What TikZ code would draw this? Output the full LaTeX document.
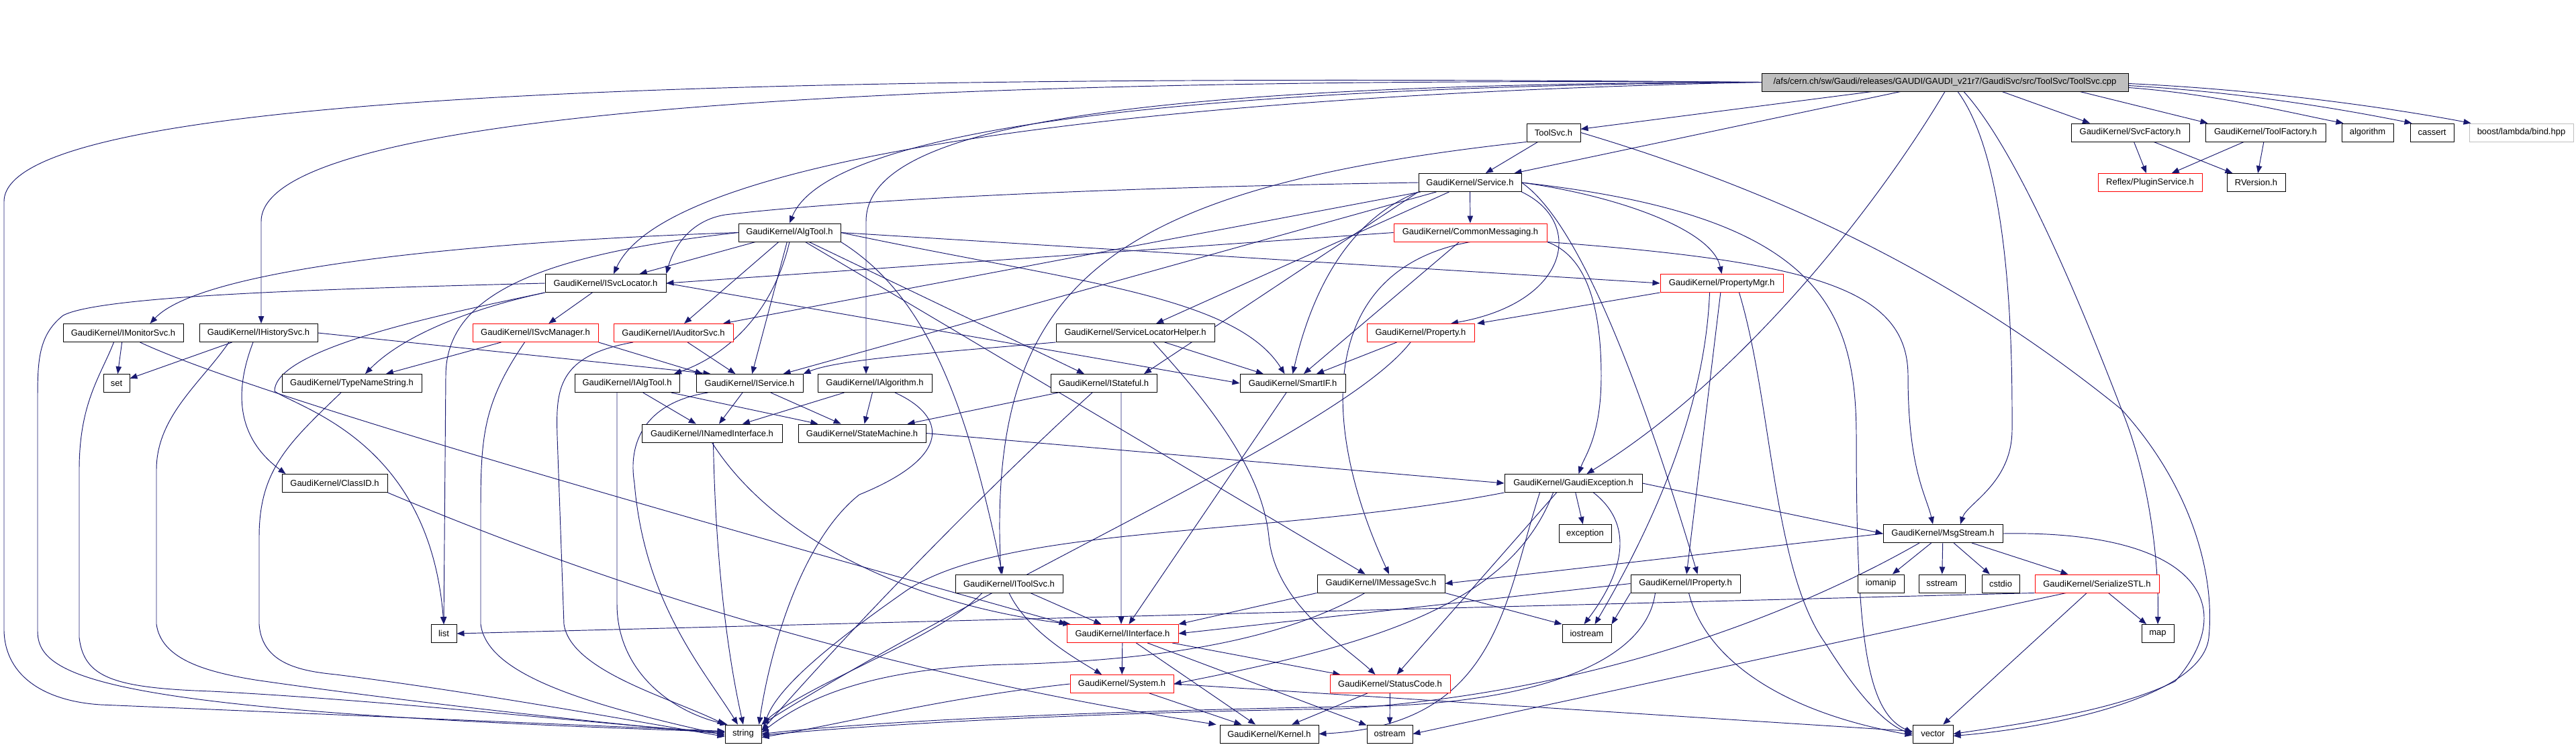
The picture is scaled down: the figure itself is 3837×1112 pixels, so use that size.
\documentclass[tikz,border=0pt]{standalone}
\usepackage{fontspec}
\setmainfont{Liberation Sans}
\usetikzlibrary{arrows.meta}
\definecolor{edgec}{HTML}{191970}
\definecolor{hdrfill}{HTML}{BFBFBF}
\definecolor{nodoc}{HTML}{BFBFBF}
\pgfdeclarelayer{bg}
\pgfsetlayers{bg,main}
\tikzset{
  box/.style={draw=black, line width=0.95bp, fill=white, minimum height=27bp, inner sep=0pt,
    font=\fontsize{13bp}{15bp}\selectfont},
  redbox/.style={draw=red},
  ed/.style={draw=edgec, line width=0.95bp, -{Triangle[length=11bp,width=8.5bp]}}
}
\begin{document}
\begin{tikzpicture}[x=1bp,y=-1bp]
\useasboundingbox (0,0) rectangle (3837,1112);
% ---------------- nodes ----------------
\node[box,minimum width=546bp,fill=hdrfill] (H) at (2897,122.5) {/afs/cern.ch/sw/Gaudi/releases/GAUDI/GAUDI\_v21r7/GaudiSvc/src/ToolSvc/ToolSvc.cpp};
\node[box,minimum width=80bp] (ToolSvcH) at (2314,197.5) {ToolSvc.h};
\node[box,minimum width=176bp] (SvcFactory) at (3173,197.5) {GaudiKernel/SvcFactory.h};
\node[box,minimum width=179bp] (ToolFactory) at (3374.5,197.5) {GaudiKernel/ToolFactory.h};
\node[box,minimum width=77bp] (algorithm) at (3526.5,197.5) {algorithm};
\node[box,minimum width=65bp] (cassert) at (3622.5,197.5) {cassert};
\node[box,minimum width=155bp,draw=nodoc] (boost) at (3755.5,197.5) {boost/lambda/bind.hpp};
\node[box,minimum width=153bp] (Service) at (2189.5,272) {GaudiKernel/Service.h};
\node[box,redbox,minimum width=155bp] (PluginService) at (3202.5,272) {Reflex/PluginService.h};
\node[box,minimum width=87bp] (RVersion) at (3360.5,272) {RVersion.h};
\node[box,minimum width=152bp] (AlgTool) at (1176,346.5) {GaudiKernel/AlgTool.h};
\node[box,redbox,minimum width=228bp] (CommonMessaging) at (2190,346.5) {GaudiKernel/CommonMessaging.h};
\node[box,minimum width=180bp] (ISvcLocator) at (902,422) {GaudiKernel/ISvcLocator.h};
\node[box,redbox,minimum width=183bp] (PropertyMgr) at (2564.5,422) {GaudiKernel/PropertyMgr.h};
\node[box,minimum width=179bp] (IMonitorSvc) at (183.5,496) {GaudiKernel/IMonitorSvc.h};
\node[box,minimum width=176bp] (IHistorySvc) at (385,496) {GaudiKernel/IHistorySvc.h};
\node[box,redbox,minimum width=187bp] (ISvcManager) at (797.5,496) {GaudiKernel/ISvcManager.h};
\node[box,redbox,minimum width=178bp] (IAuditorSvc) at (1003,496) {GaudiKernel/IAuditorSvc.h};
\node[box,minimum width=236bp] (SLHelper) at (1691,496) {GaudiKernel/ServiceLocatorHelper.h};
\node[box,redbox,minimum width=160bp] (Property) at (2116,496) {GaudiKernel/Property.h};
\node[box,minimum width=39bp] (set) at (173.5,571) {set};
\node[box,minimum width=208bp] (TypeNameString) at (524,571) {GaudiKernel/TypeNameString.h};
\node[box,minimum width=156bp] (IAlgTool) at (934,571) {GaudiKernel/IAlgTool.h};
\node[box,minimum width=159bp] (IService) at (1116.5,571) {GaudiKernel/IService.h};
\node[box,minimum width=170bp] (IAlgorithm) at (1303,571) {GaudiKernel/IAlgorithm.h};
\node[box,minimum width=158bp] (IStateful) at (1644,571) {GaudiKernel/IStateful.h};
\node[box,minimum width=157bp] (SmartIF) at (1925.5,571) {GaudiKernel/SmartIF.h};
\node[box,minimum width=209bp] (INamedInterface) at (1060.5,645.5) {GaudiKernel/INamedInterface.h};
\node[box,minimum width=190bp] (StateMachine) at (1284,645.5) {GaudiKernel/StateMachine.h};
\node[box,minimum width=157bp] (ClassID) at (498.5,720) {GaudiKernel/ClassID.h};
\node[box,minimum width=205bp] (GaudiException) at (2343.5,720) {GaudiKernel/GaudiException.h};
\node[box,minimum width=78bp] (exception) at (2361,795) {exception};
\node[box,minimum width=178bp] (MsgStream) at (2894,795) {GaudiKernel/MsgStream.h};
\node[box,minimum width=160bp] (IToolSvc) at (1503,869.5) {GaudiKernel/IToolSvc.h};
\node[box,minimum width=190bp] (IMessageSvc) at (2057,869.5) {GaudiKernel/IMessageSvc.h};
\node[box,minimum width=163bp] (IProperty) at (2510.5,869.5) {GaudiKernel/IProperty.h};
\node[box,minimum width=69bp] (iomanip) at (2801.5,869.5) {iomanip};
\node[box,minimum width=69bp] (sstream) at (2892.5,869.5) {sstream};
\node[box,minimum width=56bp] (cstdio) at (2980,869.5) {cstdio};
\node[box,redbox,minimum width=185bp] (SerializeSTL) at (3123.5,869.5) {GaudiKernel/SerializeSTL.h};
\node[box,minimum width=38bp] (list) at (661,944) {list};
\node[box,redbox,minimum width=166bp] (IInterface) at (1672,944) {GaudiKernel/IInterface.h};
\node[box,minimum width=73bp] (iostream) at (2363.5,944) {iostream};
\node[box,minimum width=48bp] (map) at (3214,944) {map};
\node[box,redbox,minimum width=154bp] (System) at (1671,1019) {GaudiKernel/System.h};
\node[box,redbox,minimum width=179bp] (StatusCode) at (2070.5,1019) {GaudiKernel/StatusCode.h};
\node[box,minimum width=54bp] (string) at (1107,1093.5) {string};
\node[box,minimum width=147bp] (Kernel) at (1890.5,1093.5) {GaudiKernel/Kernel.h};
\node[box,minimum width=68bp] (ostream) at (2070,1093.5) {ostream};
\node[box,minimum width=60bp] (vector) at (2879,1093.5) {vector};
% ---------------- edges ----------------
\begin{pgfonlayer}{bg}
% header
\draw[ed] (H) -- (ToolSvcH);
\draw[ed] (H) -- (Service);
\draw[ed] (H.south) .. controls (2800,300) and (2600,560) .. ([xshift=20bp]GaudiException.north);
\draw[ed] ([xshift=19bp]H.south) .. controls (3000,250) and (2997,560) .. (2997,640) .. controls (2997,720) and (2930,750) .. ([xshift=26bp]MsgStream.north);
\draw[ed] ([xshift=28bp]H.south) .. controls (3010,230) and (3110,480) .. (3160,610) .. controls (3205,720) and (3216,850) .. (map.north);
\draw[ed] ([xshift=85bp]H.south) -- ([xshift=-60bp]SvcFactory.north);
\draw[ed] ([xshift=201bp]H.south) -- ([xshift=4bp]ToolFactory.north west);
\draw[ed] ([yshift=-8bp]H.east) .. controls (3300,140) and (3420,170) .. ([xshift=3bp]algorithm.north west);
\draw[ed] ([yshift=-5bp]H.east) .. controls (3350,138) and (3500,165) .. ([xshift=3bp]cassert.north west);
\draw[ed] ([yshift=-2bp]H.east) .. controls (3400,135) and (3600,168) .. ([xshift=3bp]boost.north west);
\draw[ed] (H.west) .. controls (1800,140) and (1000,220) .. ([xshift=12bp]ISvcLocator.north);
\draw[ed] (H.west) .. controls (1700,130) and (1230,200) .. (AlgTool.north);
\draw[ed] (H.west) .. controls (1600,125) and (1290,200) .. (1290,330) -- ([xshift=-13bp]IAlgorithm.north);
\draw[ed] (H.west) .. controls (1500,115) and (389,150) .. (389,330) -- ([xshift=4bp]IHistorySvc.north);
\draw[ed] (H.west) .. controls (1200,110) and (8,130) .. (6,300) -- (6,940) .. controls (8,1010) and (70,1045) .. (150,1050) -- ([yshift=4bp]string.west);
% ToolSvc.h
\draw[ed] (ToolSvcH) -- (Service);
\draw[ed] (ToolSvcH.south west) .. controls (1650,280) and (1470,420) .. ([xshift=-12bp]IToolSvc.north);
\draw[ed] (ToolSvcH.east) .. controls (2700,300) and (2950,440) .. (3160,610) .. controls (3260,720) and (3300,850) .. (3290,950) .. controls (3280,1040) and (3050,1085) .. ([yshift=-3bp]vector.east);
% factories
\draw[ed] (SvcFactory) -- (PluginService);
\draw[ed] (SvcFactory) -- (RVersion);
\draw[ed] (ToolFactory) -- (PluginService);
\draw[ed] (ToolFactory) -- (RVersion);
% Service.h
\draw[ed] (Service) -- (CommonMessaging);
\draw[ed] (Service.west) .. controls (1600,280) and (1250,300) .. (1080,320) .. controls (1020,330) and (1000,380) .. (ISvcLocator.north east);
\draw[ed] (Service) -- (IService);
\draw[ed] (Service) -- (SLHelper);
\draw[ed] (Service) -- (IAuditorSvc);
\draw[ed] (Service.south west) .. controls (2000,330) and (1950,450) .. (SmartIF.north);
\draw[ed] (Service.south west) -- ([xshift=60bp]IStateful.north);
\draw[ed] (Service.east) .. controls (2400,290) and (2550,340) .. (PropertyMgr.north);
\draw[ed] (Service.south east) .. controls (2360,330) and (2340,450) .. ([xshift=45bp]Property.north);
\draw[ed] (Service.east) .. controls (2350,330) and (2440,560) .. ([xshift=18bp]IProperty.north);
\draw[ed] (Service.east) .. controls (2700,320) and (2765,450) .. (2765,650) .. controls (2765,950) and (2780,1060) .. ([yshift=2bp]vector.west);
% CommonMessaging.h
\draw[ed] (CommonMessaging.west) -- (ISvcLocator.east);
\draw[ed] (CommonMessaging.south) .. controls (1970,400) and (1960,620) .. ([xshift=12bp]IMessageSvc.north);
\draw[ed] (CommonMessaging) -- (SmartIF);
\draw[ed] (CommonMessaging.south east) .. controls (2700,390) and (2842,430) .. (2842,560) .. controls (2842,700) and (2870,740) .. ([xshift=-15bp]MsgStream.north);
\draw[ed] (CommonMessaging.south east) .. controls (2360,380) and (2385,450) .. (2385,560) .. controls (2385,650) and (2360,680) .. ([xshift=8bp]GaudiException.north);
% AlgTool.h
\draw[ed] (AlgTool.west) .. controls (700,360) and (300,400) .. ([xshift=40bp]IMonitorSvc.north);
\draw[ed] (AlgTool) -- (ISvcLocator);
\draw[ed] (AlgTool.south) .. controls (1150,470) and (1080,530) .. ([xshift=70bp]IAlgTool.north);
\draw[ed] (AlgTool) -- (IService);
\draw[ed] (AlgTool) -- (IAuditorSvc);
\draw[ed] (AlgTool.south east) .. controls (1380,440) and (1440,600) .. ([xshift=-10bp]IToolSvc.north);
\draw[ed] (AlgTool) -- (IStateful);
\draw[ed] (AlgTool.east) .. controls (1600,420) and (1840,440) .. ([xshift=-12bp]SmartIF.north);
\draw[ed] (AlgTool.east) -- (PropertyMgr.west);
\draw[ed] (AlgTool) -- (IMessageSvc);
\draw[ed] (AlgTool.west) .. controls (800,380) and (664,440) .. (664,560) -- (list.north);
% ISvcLocator.h
\draw[ed] (ISvcLocator) -- (ISvcManager);
\draw[ed] (ISvcLocator.south west) .. controls (700,460) and (600,500) .. ([xshift=20bp]TypeNameString.north);
\draw[ed] (ISvcLocator.east) -- (SmartIF.west);
\draw[ed] (ISvcLocator.south west) .. controls (650,470) and (409,520) .. (409,583) .. controls (450,610) and (640,660) .. (list.north);
\draw[ed] (ISvcLocator.west) .. controls (500,430) and (150,440) .. (94,470) .. controls (56,500) and (56,540) .. (56,600) -- (56,940) .. controls (56,1010) and (150,1060) .. ([yshift=3bp]string.west);
% IMonitorSvc.h
\draw[ed] (IMonitorSvc) -- (set);
\draw[ed] ([xshift=-14bp]IMonitorSvc.south) .. controls (150,560) and (118,600) .. (118,700) -- (118,950) .. controls (125,1010) and (170,1025) .. (315,1030) .. controls (600,1045) and (900,1080) .. ([yshift=2bp]string.west);
\draw[ed] ([xshift=25bp]IMonitorSvc.south) .. controls (400,600) and (1200,820) .. (IInterface.north west);
% IHistorySvc.h
\draw[ed] (IHistorySvc) -- (set);
\draw[ed] ([xshift=-44bp]IHistorySvc.south) .. controls (300,570) and (233,620) .. (233,700) -- (233,930) .. controls (240,980) and (300,1000) .. (380,1013) .. controls (600,1045) and (900,1078) .. (string.west);
\draw[ed] ([xshift=-8bp]IHistorySvc.south) .. controls (350,580) and (350,650) .. ([xshift=-73bp]ClassID.north);
\draw[ed] (IHistorySvc.east) -- ([xshift=-58bp]IService.north);
% ISvcManager.h
\draw[ed] (ISvcManager) -- (TypeNameString);
\draw[ed] ([xshift=-16bp]ISvcManager.south) .. controls (720,600) and (716,650) .. (716,760) -- (716,930) .. controls (725,1000) and (850,1045) .. ([yshift=-2bp]string.west);
\draw[ed] (ISvcManager.south east) -- ([xshift=-70bp]IService.north);
% IAuditorSvc.h
\draw[ed] (IAuditorSvc) -- (IService);
\draw[ed] ([xshift=-60bp]IAuditorSvc.south) .. controls (830,530) and (828,580) .. (830,650) -- (840,930) .. controls (850,1000) and (1000,1040) .. (string.north west);
% ServiceLocatorHelper.h
\draw[ed] (SLHelper.south west) .. controls (1400,525) and (1250,535) .. (IService.north east);
\draw[ed] (SLHelper) -- (SmartIF);
\draw[ed] ([xshift=27bp]SLHelper.south) .. controls (1800,600) and (1880,700) .. (1890,800) .. controls (1900,900) and (2000,960) .. ([xshift=-22bp]StatusCode.north);
% Property.h
\draw[ed] (Property) -- (SmartIF);
\draw[ed] ([xshift=-15bp]Property.south) .. controls (2000,640) and (1500,850) .. (string.north east);
% PropertyMgr.h
\draw[ed] (PropertyMgr.south west) -- ([xshift=84bp]Property.north);
\draw[ed] (PropertyMgr) -- (IProperty);
\draw[ed] ([xshift=26bp]PropertyMgr.south) .. controls (2640,600) and (2640,850) .. (2720,960) .. controls (2770,1040) and (2810,1080) .. (vector.west);
\draw[ed] ([xshift=-18bp]PropertyMgr.south) .. controls (2540,600) and (2470,770) .. ([xshift=12bp]iostream.north);
% TypeNameString.h
\draw[ed] ([xshift=-16bp]TypeNameString.south) .. controls (430,660) and (386,700) .. (386,800) -- (386,930) .. controls (390,990) and (450,1000) .. (500,1005) .. controls (700,1030) and (950,1075) .. ([yshift=-4bp]string.west);
% IAlgTool.h
\draw[ed] (IAlgTool) -- (INamedInterface);
\draw[ed] (IAlgTool) -- (StateMachine);
\draw[ed] ([xshift=-15bp]IAlgTool.south) .. controls (919,700) and (919,800) .. (919,900) .. controls (919,1000) and (1000,1060) .. ([xshift=4bp]string.north west);
% IService.h
\draw[ed] (IService) -- (INamedInterface);
\draw[ed] (IService) -- (StateMachine);
\draw[ed] ([xshift=-62bp]IService.south) .. controls (960,600) and (935,660) .. (945,720) .. controls (960,900) and (1050,1000) .. ([xshift=-8bp]string.north);
% IAlgorithm.h
\draw[ed] (IAlgorithm) -- (INamedInterface);
\draw[ed] (IAlgorithm) -- (StateMachine);
\draw[ed] ([xshift=30bp]IAlgorithm.south) .. controls (1410,620) and (1420,680) .. (1280,737) .. controls (1200,800) and (1150,950) .. ([xshift=-4bp]string.north east);
% IStateful.h
\draw[ed] (IStateful) -- (StateMachine);
\draw[ed] ([xshift=26bp]IStateful.south) -- ([xshift=-2bp]IInterface.north);
\draw[ed] ([xshift=-17bp]IStateful.south) .. controls (1500,700) and (1300,900) .. ([yshift=5bp]string.east);
% SmartIF.h
\draw[ed] (SmartIF) -- (IInterface);
% INamedInterface.h
\draw[ed] (INamedInterface.south) .. controls (1150,800) and (1350,900) .. ([xshift=6bp]IInterface.north west);
\draw[ed] ([xshift=2bp]INamedInterface.south) .. controls (1065,800) and (1078,950) .. (string.north);
% StateMachine.h
\draw[ed] (StateMachine.east) -- (GaudiException.west);
% ClassID.h
\draw[ed] (ClassID.south east) .. controls (900,870) and (1300,1000) .. ([xshift=-5bp]Kernel.north west);
% GaudiException.h
\draw[ed] (GaudiException) -- (exception);
\draw[ed] (GaudiException.east) -- (MsgStream.west);
\draw[ed] ([xshift=30bp]GaudiException.south) .. controls (2445,790) and (2405,870) .. ([xshift=-4bp]iostream.north);
\draw[ed] (GaudiException.south west) .. controls (1900,800) and (1500,780) .. (1350,880) .. controls (1250,950) and (1160,1020) .. ([xshift=4bp]string.north east);
\draw[ed] ([xshift=-30bp]GaudiException.south) .. controls (2250,900) and (2050,960) .. (System.east);
\draw[ed] ([xshift=-25bp]GaudiException.south) -- ([xshift=10bp]StatusCode.north);
\draw[ed] ([xshift=-50bp]GaudiException.south) .. controls (2240,900) and (2230,1080) .. (Kernel.east);
% MsgStream.h
\draw[ed] (MsgStream.west) -- (IMessageSvc.east);
\draw[ed] (MsgStream) -- (iomanip);
\draw[ed] (MsgStream) -- (sstream);
\draw[ed] (MsgStream) -- (cstdio);
\draw[ed] (MsgStream) -- (SerializeSTL);
\draw[ed] ([xshift=-35bp]MsgStream.south) .. controls (2700,900) and (2400,1030) .. (2000,1056) .. controls (1600,1062) and (1300,1080) .. ([yshift=-2bp]string.east);
\draw[ed] (MsgStream.east) .. controls (3270,790) and (3340,900) .. (3240,1015) .. controls (3150,1060) and (3000,1080) .. (vector.east);
% IToolSvc.h
\draw[ed] (IToolSvc) -- (IInterface);
\draw[ed] (IToolSvc.south) .. controls (1530,940) and (1600,980) .. ([xshift=-30bp]System.north);
\draw[ed] ([xshift=-40bp]IToolSvc.south) .. controls (1400,950) and (1200,1020) .. (string.north east);
% IMessageSvc.h
\draw[ed] (IMessageSvc.south west) -- (IInterface.north east);
\draw[ed] (IMessageSvc.south east) -- (iostream.north west);
\draw[ed] ([xshift=-24bp]IMessageSvc.south) .. controls (1900,960) and (1700,985) .. (1500,990) .. controls (1300,995) and (1200,1040) .. ([yshift=2bp]string.east);
% IProperty.h
\draw[ed] (IProperty.west) -- (IInterface.east);
\draw[ed] (IProperty.south west) -- (iostream.north east);
\draw[ed] ([xshift=5bp]IProperty.south) .. controls (2540,980) and (2650,1060) .. ([yshift=-2bp]vector.west);
\draw[ed] ([xshift=-45bp]IProperty.south) .. controls (2450,1000) and (2250,1048) .. (2050,1052) .. controls (1600,1060) and (1300,1075) .. (string.east);
% SerializeSTL.h
\draw[ed] (SerializeSTL.south west) -- (list.east);
\draw[ed] (SerializeSTL) -- (map);
\draw[ed] (SerializeSTL) -- (vector);
\draw[ed] ([xshift=-46bp]SerializeSTL.south) -- (ostream.east);
% IInterface.h
\draw[ed] (IInterface) -- (System);
\draw[ed] (IInterface) -- (StatusCode);
\draw[ed] (IInterface) -- (Kernel);
\draw[ed] (IInterface) -- (ostream);
% System.h
\draw[ed] (System) -- (Kernel);
\draw[ed] (System.west) .. controls (1400,1040) and (1250,1080) .. ([yshift=-5bp]string.east);
\draw[ed] (System.east) -- ([yshift=4bp]vector.west);
% StatusCode.h
\draw[ed] (StatusCode) -- (Kernel);
\draw[ed] (StatusCode) -- (ostream);
\end{pgfonlayer}
\end{tikzpicture}
\end{document}
